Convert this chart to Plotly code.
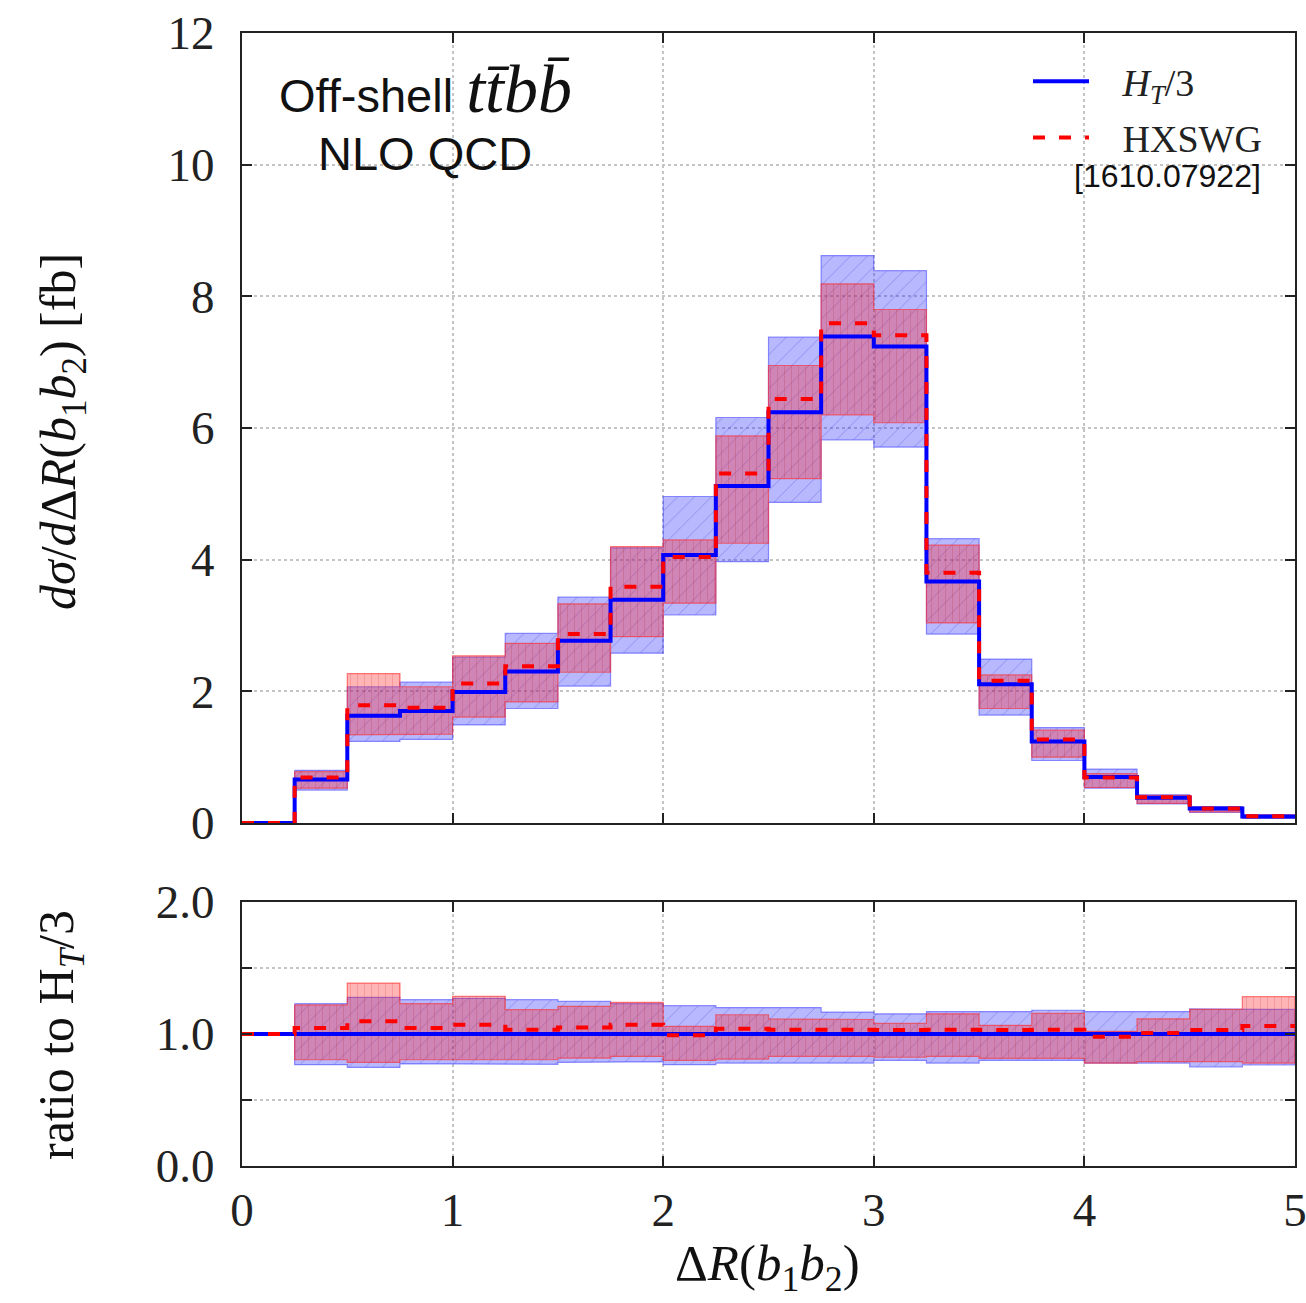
import plotly.graph_objects as go

# ---- data -------------------------------------------------------------
bin_edges = [0.0, 0.25, 0.5, 0.75, 1.0, 1.25, 1.5, 1.75, 2.0, 2.25, 2.5,
             2.75, 3.0, 3.25, 3.5, 3.75, 4.0, 4.25, 4.5, 4.75, 5.0]

ht_central = [0, 0.66, 1.63, 1.70, 1.99, 2.30, 2.77, 3.39, 4.07, 5.12, 6.24,
              7.39, 7.24, 3.67, 2.11, 1.24, 0.70, 0.385, 0.22, 0.10]
ht_up = [None, 0.80, 2.07, 2.14, 2.52, 2.88, 3.43, 4.18, 4.96, 6.16, 7.38,
         8.62, 8.39, 4.32, 2.49, 1.45, 0.82, 0.43, 0.25, 0.12]
ht_down = [None, 0.50, 1.24, 1.27, 1.49, 1.74, 2.08, 2.58, 3.16, 3.97, 4.87,
           5.82, 5.71, 2.87, 1.64, 0.95, 0.53, 0.29, 0.16, 0.07]

hx_central = [0, 0.69, 1.79, 1.75, 2.12, 2.38, 2.87, 3.59, 4.04, 5.31, 6.44,
              7.59, 7.41, 3.80, 2.16, 1.27, 0.69, 0.39, 0.22, 0.105]
hx_up = [None, 0.78, 2.27, 2.07, 2.54, 2.73, 3.33, 4.20, 4.30, 5.88, 6.95,
         8.19, 7.80, 4.22, 2.25, 1.41, 0.75, 0.42, 0.24, 0.125]
hx_down = [None, 0.53, 1.34, 1.35, 1.61, 1.84, 2.29, 2.83, 3.34, 4.25, 5.23,
           6.20, 6.08, 3.04, 1.74, 1.00, 0.54, 0.30, 0.17, 0.08]

ratio_ht = [1.0] * 20
ratio_ht_up = [None, 1.23, 1.278, 1.26, 1.27, 1.26, 1.247, 1.23, 1.215, 1.20, 1.20,
               1.166, 1.153, 1.17, 1.17, 1.18, 1.17, 1.17, 1.19, 1.186]
ratio_ht_down = [None, 0.768, 0.747, 0.775, 0.77, 0.77, 0.785, 0.79, 0.768, 0.78, 0.78,
                 0.78, 0.80, 0.78, 0.80, 0.80, 0.78, 0.78, 0.75, 0.765]
ratio_hx = [1.0, 1.045, 1.096, 1.045, 1.07, 1.033, 1.05, 1.07, 0.99, 1.04, 1.033,
            1.033, 1.03, 1.033, 1.03, 1.033, 0.98, 1.008, 1.03, 1.06]
ratio_hx_up = [None, 1.22, 1.386, 1.23, 1.285, 1.184, 1.21, 1.24, 1.058, 1.146, 1.115,
               1.11, 1.08, 1.153, 1.066, 1.156, 1.02, 1.115, 1.186, 1.283]
ratio_hx_down = [None, 0.805, 0.785, 0.805, 0.805, 0.805, 0.818, 0.83, 0.80, 0.81, 0.83,
                 0.83, 0.824, 0.83, 0.816, 0.816, 0.78, 0.79, 0.79, 0.78]

main_yticks = [0, 2, 4, 6, 8, 10, 12]
ratio_yticks = [0.0, 0.5, 1.0, 1.5, 2.0]
ratio_yticktext = ["0.0", "", "1.0", "", "2.0"]
x_ticks = [0, 1, 2, 3, 4, 5]

# ---- helpers ----------------------------------------------------------
def band_path(edges, up, down):
    xs, ys = [], []
    idx = [i for i in range(len(up)) if up[i] is not None]
    for i in idx:
        xs += [edges[i], edges[i + 1]]
        ys += [up[i], up[i]]
    for i in reversed(idx):
        xs += [edges[i + 1], edges[i]]
        ys += [down[i], down[i]]
    xs.append(xs[0]); ys.append(ys[0])
    return xs, ys


def step_xy(edges, vals):
    return list(edges), list(vals) + [vals[-1]]


BLUE_BG = "rgba(40,40,255,0.33)"
BLUE_FG = "rgba(0,0,170,0.45)"
RED_BG = "rgba(255,30,30,0.33)"
RED_FG = "rgba(170,0,0,0.35)"

fig = go.Figure()


def add_bands(up_b, dn_b, up_r, dn_r, xaxis, yaxis):
    bx, by = band_path(bin_edges, up_b, dn_b)
    fig.add_trace(go.Scatter(
        x=bx, y=by, mode="lines", fill="toself", fillcolor=BLUE_BG,
        fillpattern=dict(shape="/", bgcolor=BLUE_BG, fgcolor=BLUE_FG,
                         size=12, solidity=0.08),
        line=dict(color="rgba(60,60,255,0.55)", width=1.2),
        showlegend=False, hoverinfo="skip", xaxis=xaxis, yaxis=yaxis))
    rx, ry = band_path(bin_edges, up_r, dn_r)
    fig.add_trace(go.Scatter(
        x=rx, y=ry, mode="lines", fill="toself", fillcolor=RED_BG,
        fillpattern=dict(shape="|", bgcolor=RED_BG, fgcolor=RED_FG,
                         size=7, solidity=0.12),
        line=dict(color="rgba(255,40,40,0.6)", width=1.2),
        showlegend=False, hoverinfo="skip", xaxis=xaxis, yaxis=yaxis))


add_bands(ht_up, ht_down, hx_up, hx_down, "x2", "y")
add_bands(ratio_ht_up, ratio_ht_down, ratio_hx_up, ratio_hx_down, "x", "y2")

PAD = "\u00a0\u00a0\u00a0"
sx, sy = step_xy(bin_edges, ht_central)
fig.add_trace(go.Scatter(x=sx, y=sy, mode="lines", line=dict(color="#0000ff", width=4, shape="hv"),
                         name=PAD + "<i>H</i><sub><i>T</i></sub>/3", legendgroup="a",
                         xaxis="x2", yaxis="y"))
sx, sy = step_xy(bin_edges, hx_central)
fig.add_trace(go.Scatter(x=sx, y=sy, mode="lines",
                         line=dict(color="#ff0000", width=4, shape="hv", dash="12px,14px"),
                         name=PAD + "HXSWG", legendgroup="b", xaxis="x2", yaxis="y"))
sx, sy = step_xy(bin_edges, ratio_ht)
fig.add_trace(go.Scatter(x=sx, y=sy, mode="lines", line=dict(color="#0000ff", width=4, shape="hv"),
                         showlegend=False, xaxis="x", yaxis="y2"))
sx, sy = step_xy(bin_edges, ratio_hx)
fig.add_trace(go.Scatter(x=sx, y=sy, mode="lines",
                         line=dict(color="#ff0000", width=4, shape="hv", dash="12px,14px"),
                         showlegend=False, xaxis="x", yaxis="y2"))

SERIF = "Liberation Serif, DejaVu Serif, serif"
SANS = "Liberation Sans, Arial, sans-serif"

axis_common = dict(showline=True, linecolor="#222", linewidth=2, mirror="ticks",
                   ticks="inside", ticklen=10, tickwidth=2, tickcolor="#222",
                   showgrid=True, gridcolor="#c4c4c4", griddash="dot", gridwidth=1.5,
                   zeroline=False, automargin=False, ticklabeloverflow="allow",
                   tickfont=dict(family=SERIF, size=47, color="#222"))

fig.update_layout(
    width=1306, height=1303,
    margin=dict(l=242, r=11, t=33, b=137),
    paper_bgcolor="white", plot_bgcolor="white",
    xaxis=dict(range=[0, 5], tickvals=x_ticks, anchor="y2", ticklabelstandoff=2, **axis_common),
    xaxis2=dict(range=[0, 5], tickvals=x_ticks, anchor="y", matches="x", showticklabels=False,
                **axis_common),
    yaxis=dict(range=[0, 12], tickvals=main_yticks, domain=[0.3027, 1.0], anchor="x2",
               ticklabelstandoff=16, **axis_common),
    yaxis2=dict(range=[0, 2], tickvals=ratio_yticks, ticktext=ratio_yticktext,
                domain=[0.0, 0.233], anchor="x", ticklabelstandoff=16, **axis_common),
    showlegend=True,
    legend=dict(x=(1028 - 242) / 1053, y=(1166 - 50) / 1133, xanchor="left", yanchor="top",
                bgcolor="rgba(0,0,0,0)", font=dict(family=SERIF, size=38, color="#222"),
                itemwidth=56, tracegroupgap=4),
)


def ann(text, px, py, size, family, angle=0, xanchor="center"):
    return dict(text=text, x=(px - 242) / 1053, y=(1166 - py) / 1133, xref="paper", yref="paper",
                xanchor=xanchor, yanchor="middle", textangle=angle, showarrow=False,
                font=dict(family=family, size=size, color="#111"))


annotations = [
    ann("Off-shell <span style=\"font-family:'Liberation Serif'; font-size:68px\"><i>tt̄bb̄</i></span>",
        425, 89, 47, SANS),
    ann("NLO QCD", 425, 154, 47, SANS),
    ann("[1610.07922]", 1263, 176, 32, SANS, xanchor="right"),
    ann("<i>dσ</i>/<i>d</i>Δ<i>R</i>(<i>b</i><sub>1</sub><i>b</i><sub>2</sub>) [fb]",
        62, 432, 50, SERIF, angle=-90),
    ann("ratio to H<sub><i>T</i></sub>/3", 60, 1035, 50, SERIF, angle=-90),
    ann("Δ<i>R</i>(<i>b</i><sub>1</sub><i>b</i><sub>2</sub>)", 767, 1267, 51, SERIF),
]
fig.update_layout(annotations=annotations)

fig.write_html("out.html")
